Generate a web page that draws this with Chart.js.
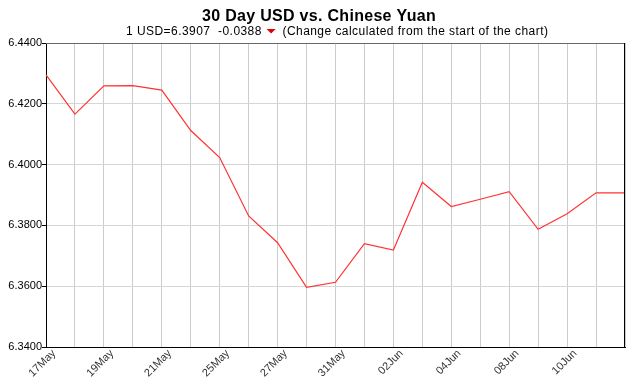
<!DOCTYPE html>
<html>
<head>
<meta charset="utf-8">
<script src="https://cdn.jsdelivr.net/npm/chart.js@4/dist/chart.umd.min.js"></script>
<style>
  html, body { margin: 0; padding: 0; background: #fff; }
  #wrap { width: 629px; height: 379px; position: relative; }
</style>
</head>
<body>
<div id="wrap"><canvas id="chart-canvas"></canvas></div>
<script>
const chart = document.getElementById("chart-canvas");

// Data
const dates = [
  "17May", "18May", "19May", "20May", "21May", "24May", "25May", "26May",
  "27May", "28May", "31May", "01Jun", "02Jun", "03Jun", "04Jun", "07Jun",
  "08Jun", "09Jun", "10Jun", "11Jun", "14Jun"
];
const rates = [
  6.4295, 6.4166, 6.4259, 6.4260, 6.4245, 6.4112, 6.4023, 6.3831,
  6.3743, 6.3596, 6.3613, 6.3740, 6.3719, 6.3942, 6.3862, 6.3886,
  6.3911, 6.3787, 6.3838, 6.3907, 6.3907
];
const yMin = 6.34;
const yMax = 6.44;
const yStep = 0.02;

const titleText = "30 Day USD vs. Chinese Yuan";
const lastRate = rates[rates.length - 1];
const change = lastRate - rates[0];
// ======================

const font = "Arial, 'Liberation Sans', sans-serif";

// title + subtitle with the red arrow drawn in the middle
const headerPlugin = {
  id: "header",
  afterDraw(c) {
    const ctx = c.ctx;
    ctx.save();
    ctx.fillStyle = "#000";
    ctx.textBaseline = "alphabetic";
    ctx.font = "bold 16px " + font;
    ctx.letterSpacing = "0.3px";
    ctx.textAlign = "center";
    ctx.fillText(titleText, 319, 21);

    ctx.textAlign = "left";
    ctx.font = "12px " + font;
    ctx.letterSpacing = "0.45px";
    const left = "1 USD=" + lastRate.toFixed(4) + "  " + change.toFixed(4) + " ";
    const right = " (Change calculated from the start of the chart)";
    let x = 126;
    const y = 35;
    ctx.fillText(left, x, y);
    x += ctx.measureText(left).width + 1;
    ctx.fillStyle = change < 0 ? "#e00000" : "#00a000";
    ctx.beginPath();
    if (change < 0) {
      ctx.moveTo(x, y - 6);
      ctx.lineTo(x + 9, y - 6);
      ctx.lineTo(x + 4.5, y - 1.5);
    } else {
      ctx.moveTo(x, y - 1.5);
      ctx.lineTo(x + 9, y - 1.5);
      ctx.lineTo(x + 4.5, y - 6);
    }
    ctx.closePath();
    ctx.fill();
    x += 12;
    ctx.fillStyle = "#000";
    ctx.fillText(right, x, y);

    // top and right frame lines
    const a = c.chartArea;
    ctx.strokeStyle = "#666";
    ctx.lineWidth = 1;
    ctx.beginPath();
    ctx.moveTo(a.left, a.top + 0.5);
    ctx.lineTo(a.right, a.top + 0.5);
    ctx.stroke();
    ctx.strokeStyle = "#000";
    ctx.beginPath();
    ctx.moveTo(a.right - 0.5, a.top);
    ctx.lineTo(a.right - 0.5, a.bottom);
    ctx.stroke();
    ctx.restore();
  }
};

const chartData = {
  labels: dates,
  datasets: [{
    label: "USD/CNY",
    data: rates,
    borderColor: "rgb(255, 51, 51)",
    borderWidth: 1.2,
    pointRadius: 0,
    tension: 0,
    fill: false
  }]
};

const options = {
  responsive: true,
  maintainAspectRatio: false,
  animation: false,
  layout: { padding: { top: 43, right: 4, left: 0, bottom: 0 } },
  plugins: {
    legend: false,
    title: { display: false },
    tooltip: { enabled: false }
  },
  scales: {
    x: {
      offset: false,
      grid: { color: "#cccccc", drawTicks: false },
      border: { color: "#000", width: 1 },
      ticks: {
        autoSkip: false,
        minRotation: 45,
        maxRotation: 45,
        padding: 0,
        labelOffset: 8,
        color: "#333",
        font: { family: font, size: 11 },
        // every second day, last one left off like the original
        callback: (v, i) => (i % 2 === 0 && i < dates.length - 1 ? dates[i] : "")
      },
      afterFit: (s) => {
        s.height = 32;
        s.paddingLeft = 0;
        s.paddingRight = 0;
      }
    },
    y: {
      min: yMin,
      max: yMax,
      grid: { color: "#d6d6d6", tickLength: 4, tickColor: "#000" },
      border: { color: "#000", width: 1 },
      ticks: {
        stepSize: yStep,
        padding: 0,
        color: "#000",
        font: { family: font, size: 11 },
        callback: (v) => v.toFixed(4)
      },
      afterFit: (s) => { s.width = 46; }
    }
  }
};

new Chart(chart, {
  type: "line",
  data: chartData,
  options: options,
  plugins: [headerPlugin]
});
</script>
</body>
</html>
